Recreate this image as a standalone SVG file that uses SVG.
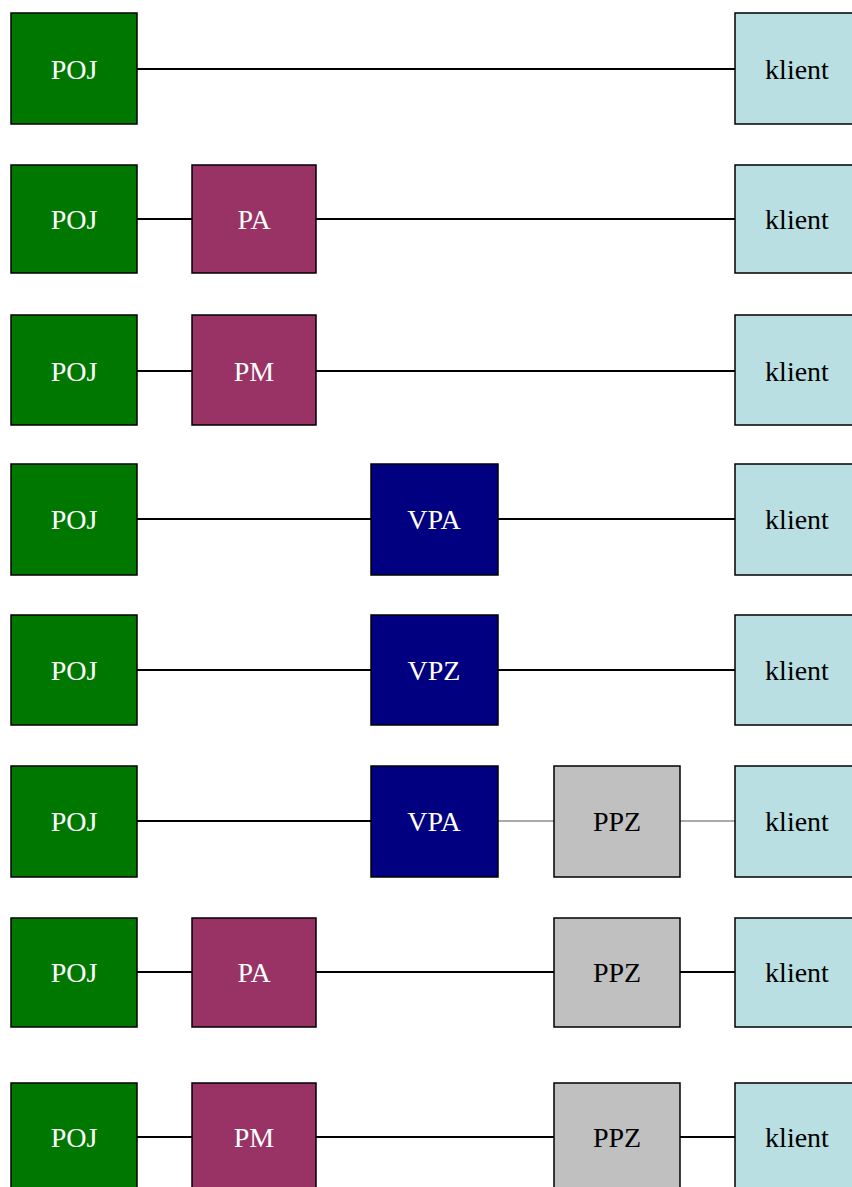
<svg xmlns="http://www.w3.org/2000/svg" width="852" height="1187" viewBox="0 0 852 1187">
<style>
.b{stroke:#000;stroke-width:1.5}
.poj{fill:#007800}
.pa{fill:#993366}
.vp{fill:#000080}
.ppz{fill:#c0c0c0}
.kl{fill:#b9dfe3}
.tw{fill:#fff;font-family:"Liberation Serif",serif;font-size:28px;text-anchor:middle}
.tb{fill:#000;font-family:"Liberation Serif",serif;font-size:28px;text-anchor:middle}
.c{stroke:#000;stroke-width:2;fill:none}
.g{stroke:#aaa;stroke-width:2;fill:none}
</style>
<rect width="852" height="1187" fill="#fff"/>
<g id="connectors">
<line class="c" x1="137" y1="69" x2="735" y2="69"/>
<line class="c" x1="137" y1="219" x2="192" y2="219"/>
<line class="c" x1="316" y1="219" x2="735" y2="219"/>
<line class="c" x1="137" y1="371" x2="192" y2="371"/>
<line class="c" x1="316" y1="371" x2="735" y2="371"/>
<line class="c" x1="137" y1="519" x2="371" y2="519"/>
<line class="c" x1="498" y1="519" x2="735" y2="519"/>
<line class="c" x1="137" y1="670" x2="371" y2="670"/>
<line class="c" x1="498" y1="670" x2="735" y2="670"/>
<line class="c" x1="137" y1="821" x2="371" y2="821"/>
<line class="g" x1="498" y1="821" x2="554" y2="821"/>
<line class="g" x1="680" y1="821" x2="735" y2="821"/>
<line class="c" x1="137" y1="972" x2="192" y2="972"/>
<line class="c" x1="316" y1="972" x2="554" y2="972"/>
<line class="c" x1="680" y1="972" x2="735" y2="972"/>
<line class="c" x1="137" y1="1137" x2="192" y2="1137"/>
<line class="c" x1="316" y1="1137" x2="554" y2="1137"/>
<line class="c" x1="680" y1="1137" x2="735" y2="1137"/>
</g>
<!-- row 1 -->
<g id="poj1"><rect class="b poj" x="11" y="13" width="126" height="111"/><text class="tw" x="74" y="79">POJ</text></g>
<g id="klient1"><rect class="b kl" x="735" y="13" width="130" height="111"/><text class="tb" x="797" y="79">klient</text></g>
<!-- row 2 -->
<g id="poj2"><rect class="b poj" x="11" y="165" width="126" height="108"/><text class="tw" x="74" y="229">POJ</text></g>
<g id="pa2"><rect class="b pa" x="192" y="165" width="124" height="108"/><text class="tw" x="254" y="229">PA</text></g>
<g id="klient2"><rect class="b kl" x="735" y="165" width="130" height="108"/><text class="tb" x="797" y="229">klient</text></g>
<!-- row 3 -->
<g id="poj3"><rect class="b poj" x="11" y="315" width="126" height="110"/><text class="tw" x="74" y="381">POJ</text></g>
<g id="pm3"><rect class="b pa" x="192" y="315" width="124" height="110"/><text class="tw" x="254" y="381">PM</text></g>
<g id="klient3"><rect class="b kl" x="735" y="315" width="130" height="110"/><text class="tb" x="797" y="381">klient</text></g>
<!-- row 4 -->
<g id="poj4"><rect class="b poj" x="11" y="464" width="126" height="111"/><text class="tw" x="74" y="529">POJ</text></g>
<g id="vpa4"><rect class="b vp" x="371" y="464" width="127" height="111"/><text class="tw" x="434" y="529">VPA</text></g>
<g id="klient4"><rect class="b kl" x="735" y="464" width="130" height="111"/><text class="tb" x="797" y="529">klient</text></g>
<!-- row 5 -->
<g id="poj5"><rect class="b poj" x="11" y="615" width="126" height="110"/><text class="tw" x="74" y="680">POJ</text></g>
<g id="vpz5"><rect class="b vp" x="371" y="615" width="127" height="110"/><text class="tw" x="434" y="680">VPZ</text></g>
<g id="klient5"><rect class="b kl" x="735" y="615" width="130" height="110"/><text class="tb" x="797" y="680">klient</text></g>
<!-- row 6 -->
<g id="poj6"><rect class="b poj" x="11" y="766" width="126" height="111"/><text class="tw" x="74" y="831">POJ</text></g>
<g id="vpa6"><rect class="b vp" x="371" y="766" width="127" height="111"/><text class="tw" x="434" y="831">VPA</text></g>
<g id="ppz6"><rect class="b ppz" x="554" y="766" width="126" height="111"/><text class="tb" x="617" y="831">PPZ</text></g>
<g id="klient6"><rect class="b kl" x="735" y="766" width="130" height="111"/><text class="tb" x="797" y="831">klient</text></g>
<!-- row 7 -->
<g id="poj7"><rect class="b poj" x="11" y="918" width="126" height="109"/><text class="tw" x="74" y="982">POJ</text></g>
<g id="pa7"><rect class="b pa" x="192" y="918" width="124" height="109"/><text class="tw" x="254" y="982">PA</text></g>
<g id="ppz7"><rect class="b ppz" x="554" y="918" width="126" height="109"/><text class="tb" x="617" y="982">PPZ</text></g>
<g id="klient7"><rect class="b kl" x="735" y="918" width="130" height="109"/><text class="tb" x="797" y="982">klient</text></g>
<!-- row 8 -->
<g id="poj8"><rect class="b poj" x="11" y="1083" width="126" height="110"/><text class="tw" x="74" y="1147">POJ</text></g>
<g id="pm8"><rect class="b pa" x="192" y="1083" width="124" height="110"/><text class="tw" x="254" y="1147">PM</text></g>
<g id="ppz8"><rect class="b ppz" x="554" y="1083" width="126" height="110"/><text class="tb" x="617" y="1147">PPZ</text></g>
<g id="klient8"><rect class="b kl" x="735" y="1083" width="130" height="110"/><text class="tb" x="797" y="1147">klient</text></g>
</svg>
